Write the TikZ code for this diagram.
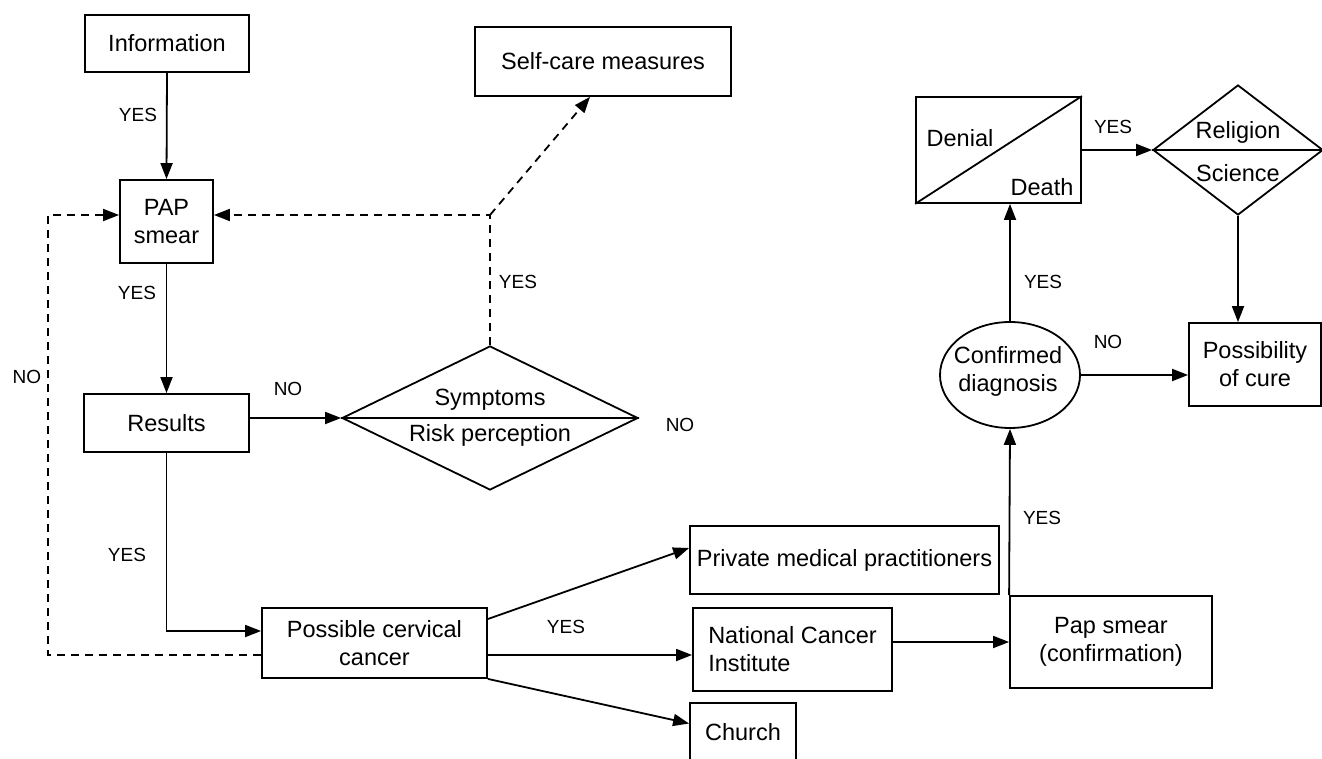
\documentclass[tikz,border=0pt]{standalone}
\usepackage{fontspec}
\setmainfont{Liberation Sans}
\usetikzlibrary{arrows.meta,shapes.geometric,calc}
\newcommand{\boxfont}{\fontsize{11.75pt}{14pt}\selectfont}
\newcommand{\lblfont}{\fontsize{9.5pt}{11pt}\selectfont}

\begin{document}
\begin{tikzpicture}[x=0.5pt,y=-0.5pt,>={Triangle[length=8pt,width=6pt]},
 box/.style={draw,line width=0.9pt,inner sep=0pt,font=\boxfont,align=center},
 txt/.style={font=\boxfont,inner sep=0pt,align=center},
 lbl/.style={font=\lblfont,inner sep=0pt},
 flow/.style={->,line width=0.9pt},
 back/.style={flow,dash pattern=on 4pt off 3pt}]
\useasboundingbox (0,0) rectangle (1322,759);
\clip (0,0) rectangle (1322,759);
% boxes
\node[box,minimum width=82pt,minimum height=28.5pt](info) at (167,43.5){Information};
\node[box,minimum width=128pt,minimum height=34.5pt](selfcare) at (603,61.5){Self-care measures};
\node[box,minimum width=46.5pt,minimum height=41.5pt](pap) at (166.5,221.5){PAP\\smear};
\node[box,minimum width=82.5pt,minimum height=29pt](results) at (166.5,423){Results};
\node[box,shape=diamond,minimum width=148pt,minimum height=72pt](sympt) at (490,418){};
\node[box,minimum width=112.5pt,minimum height=35pt](possible) at (374.5,643){Possible cervical\\cancer};
\node[box,minimum width=154.5pt,minimum height=34pt](private) at (844.5,560){Private medical practitioners};
\node[box,align=left,minimum width=99.5pt,minimum height=41.5pt](nci) at (792.5,649.5){National Cancer\\Institute};
\node[box,minimum width=53pt,minimum height=29.5pt](church) at (743,732.5){Church};
\node[box,minimum width=101pt,minimum height=46pt](papconf) at (1111,642){Pap smear\\(confirmation)};
\node[box,shape=ellipse,minimum width=70pt,minimum height=53pt](confirm) at (1010,375){};
\node[box,minimum width=82.5pt,minimum height=53pt](denial) at (998.5,150){};
\node[box,shape=diamond,minimum width=85pt,minimum height=65pt](relsci) at (1238,150){};
\node[box,minimum width=66pt,minimum height=41.5pt](cure) at (1255,364.5){Possibility\\of cure};
% texts inside split shapes
\node[txt](symtop) at (490,400){Symptoms};
\node[txt](symbot) at (490,435){Risk perception};
\node[txt](conftext) at (1008,371){Confirmed\\diagnosis};
\node[txt](den) at (960,138){Denial};
\node[txt](dea) at (1042,187){Death};
\node[txt](rel) at (1238,132){Religion};
\node[txt](sci) at (1238,173){Science};
\draw[line width=0.9pt](sympt.west)--(sympt.east);
\draw[line width=0.9pt](denial.south west)--(denial.north east);
\draw[line width=0.9pt](relsci.west)--(relsci.east);
% connectors
\coordinate (fork) at (490,215);
\coordinate (loopL) at (48,215);
\coordinate (pcLow) at ($(possible.east)+(0,12)$);
\draw[flow](info.south)--(pap.north);
\draw[flow](pap.south)--(results.north);
\draw[flow](sympt.west -| results.east)--(sympt.west);
\draw[back](sympt.north)--(fork)--(fork -| pap.east);
\draw[back](fork)--($(selfcare.south)+(-13,0)$);
\draw[back]($(possible.west)+(0,12)$)-|(loopL)--(loopL -| pap.west);
\draw[flow](results.south)|-($(possible.west)+(0,-12)$);
\draw[flow]($(possible.east)+(0,-24)$)--($(private.west)+(0,-12)$);
\draw[flow](pcLow)--(pcLow -| nci.west);
\draw[flow](possible.south east)--($(church.west)+(0,-9)$);
\draw[flow](nci.east |- papconf.west)--(papconf.west);
\draw[flow](papconf.north west)--(confirm.south);
\draw[flow](confirm.north)--(confirm.north |- denial.south);
\draw[flow](confirm.east)--(confirm.east -| cure.west);
\draw[flow](denial.east)--(relsci.west);
\draw[flow](relsci.south)--(relsci.south |- cure.north);
% labels
\node[lbl](yInfo) at (138,115){YES};
\node[lbl](yPap) at (137,293){YES};
\node[lbl](nRes) at (288,389){NO};
\node[lbl](ySym) at (518,282){YES};
\node[lbl](nSym) at (680,425){NO};
\node[lbl](yRes) at (127,555){YES};
\node[lbl](nBack) at (27,377){NO};
\node[lbl](yPoss) at (566,627){YES};
\node[lbl](yConf) at (1042,518){YES};
\node[lbl](yDiag) at (1043,282){YES};
\node[lbl](nDiag) at (1108,342){NO};
\node[lbl](yDen) at (1113,127){YES};
\end{tikzpicture}
\end{document}
